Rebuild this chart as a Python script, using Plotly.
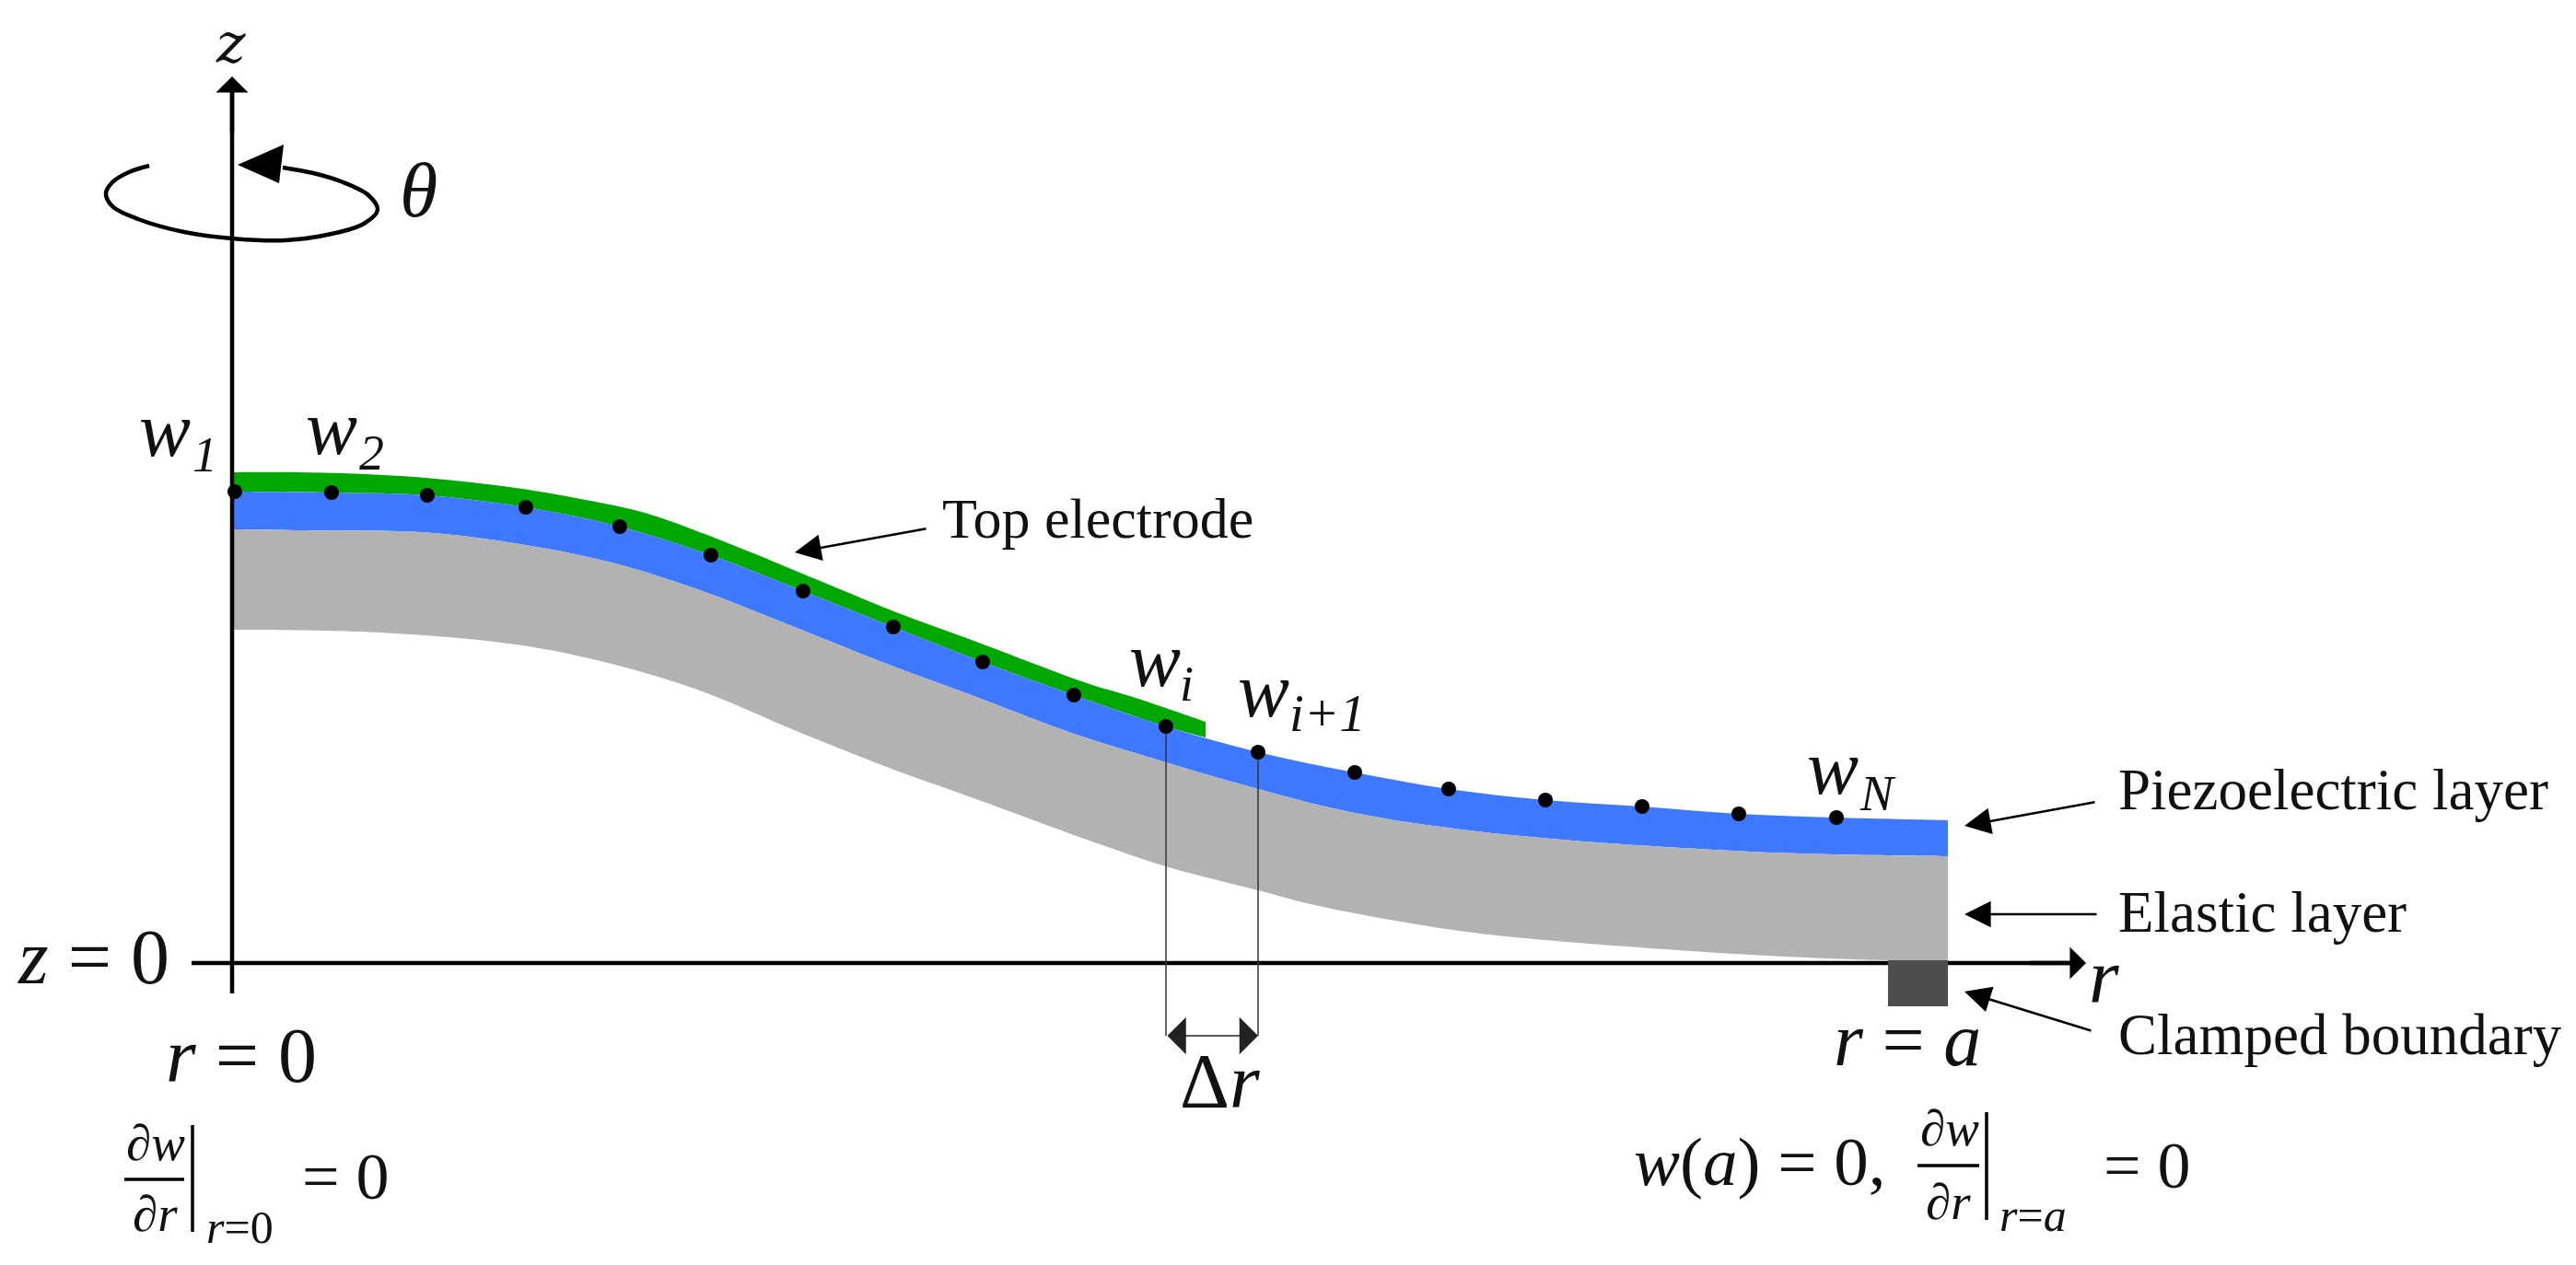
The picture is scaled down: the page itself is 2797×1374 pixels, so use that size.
import plotly.graph_objects as go

# layer outlines (r along the plate, z up from the clamp plane)
node_r = [3, 108, 212, 319, 421, 520, 620, 718, 815, 914, 1014, 1114, 1219, 1321, 1426, 1531, 1636, 1742]
node_z = [512, 511, 508, 495, 474, 443, 404, 365, 327, 291, 257, 229, 207, 189, 177, 170, 162, 158]

piezo_top_r = [0, 108, 212, 319, 421, 520, 620, 718, 815, 914, 1014, 1114, 1219, 1321, 1426, 1531, 1636, 1742, 1863]
piezo_top_z = [512, 511, 508, 495, 474, 443, 404, 365, 327, 291, 257, 229, 207, 189, 177, 170, 162, 158, 155]
piezo_bot_r = [0, 71, 205, 294, 408, 508, 608, 708, 808, 914, 1014, 1114, 1219, 1369, 1648, 1863]
piezo_bot_z = [471, 470, 468, 458, 436, 405, 366, 326, 289, 249, 218, 189, 163, 141, 121, 116]

elastic_bot_r = [0, 160, 308, 408, 508, 608, 708, 808, 928, 1014, 1114, 1171, 1263, 1364, 1648, 1798, 1863]
elastic_bot_z = [362, 359, 346, 326, 296, 254, 214, 178, 134, 105, 79, 64, 46, 31, 9, 3, 3]

electrode_top_r = [0, 71, 183, 294, 384, 448, 531, 641, 721, 808, 928, 981, 1057]
electrode_top_z = [533, 533, 529, 518, 503, 489, 459, 414, 381, 349, 304, 288, 262]
electrode_end_r = 1057
electrode_end_z = 245

clamp_r = [1798, 1863, 1863, 1798, 1798]
clamp_z = [3, 3, -47, -47, 3]

# rotation sense loop around the z axis
loop_r = [-90, -112, -130, -137, -130, -102, -52, 0, 58, 108, 143, 158, 148, 118, 88, 55]
loop_z = [866, 859, 848, 836, 822, 808, 794, 787, 785, 792, 803, 818, 834, 849, 858, 864]
loop_head_r = [6, 56, 51, 6]
loop_head_z = [867, 889, 847, 867]

GREEN = "#00a800"
BLUE = "#3d78ff"
GRAY = "#b2b2b2"
DARK = "#4d4d4d"
SERIF = "Liberation Serif"

fig = go.Figure()


def band(r_up, z_up, r_low, z_low, color):
    # repeated end points keep the corners sharp under the spline
    x = [r_up[0]] + r_up + [r_up[-1]] + [r_low[-1]] + r_low[::-1] + [r_low[0]]
    y = [z_up[0]] + z_up + [z_up[-1]] + [z_low[-1]] + z_low[::-1] + [z_low[0]]
    fig.add_trace(go.Scatter(x=x, y=y, mode="lines", fill="toself", fillcolor=color, hoverinfo="skip",
                             line=dict(width=0, shape="spline", smoothing=1, simplify=False)))


def line(r, z, width, color="black", shape="linear"):
    fig.add_trace(go.Scatter(x=r, y=z, mode="lines", hoverinfo="skip",
                             line=dict(color=color, width=width, shape=shape)))


def label(text, r, base, size, family=SERIF):
    # base is the text baseline, annotations only anchor on the box middle
    fig.add_annotation(x=r, y=base + 0.34 * size, text=text, showarrow=False, xanchor="left",
                       yanchor="middle", font=dict(family=family, size=size, color="#111111"))


def arrow(r0, z0, r1, z1, width=2.6, size=2.2, head=2, side="end", color="black"):
    fig.add_annotation(x=r1, y=z1, ax=r0, ay=z0, xref="x", yref="y", axref="x", ayref="y", text="",
                       showarrow=True, arrowhead=head, startarrowhead=head, arrowside=side,
                       arrowsize=size, startarrowsize=size, arrowwidth=width, arrowcolor=color)


electrode_base_r = [r for r in piezo_top_r if r < electrode_end_r] + [electrode_end_r]
electrode_base_z = [z for r, z in zip(piezo_top_r, piezo_top_z) if r < electrode_end_r] + [electrode_end_z]
band(electrode_top_r, electrode_top_z, electrode_base_r, electrode_base_z, GREEN)
band(piezo_top_r, piezo_top_z, piezo_bot_r, piezo_bot_z, BLUE)
band(piezo_bot_r, piezo_bot_z, elastic_bot_r, elastic_bot_z, GRAY)

# axes
line([0, 0], [-33, 950], 4.5)
line([-44, 2000], [0, 0], 4.5)
arrow(0, 900, 0, 963, width=4.5, size=1.3, head=1)
arrow(1950, 0, 2013, 0, width=4.5, size=1.3, head=1)

fig.add_trace(go.Scatter(x=clamp_r, y=clamp_z, mode="lines", fill="toself", fillcolor=DARK,
                         line=dict(width=0), hoverinfo="skip"))

line(loop_r, loop_z, 4.5, shape="spline")
fig.add_trace(go.Scatter(x=loop_head_r, y=loop_head_z, mode="lines", fill="toself", fillcolor="black",
                         line=dict(width=0), hoverinfo="skip"))

# delta r markers
line([1014, 1014], [257, -79], 1.5, color="#333333")
line([1114, 1114], [229, -79], 1.5, color="#333333")
arrow(1014, -79, 1114, -79, width=1.5, size=4.5, head=1, side="end+start", color="#222222")

fig.add_trace(go.Scatter(x=node_r, y=node_z, mode="markers", hoverinfo="skip",
                         marker=dict(color="black", size=16)))

# callouts
arrow(755, 472, 611, 446)
arrow(2024, 175, 1881, 149)
arrow(2026, 53, 1881, 53)
arrow(2020, -74, 1881, -31)

# DejaVu has a larger x-height, so the z stays clear of the page top at a smaller size
label("<i>z</i>", -20, 979, 60, family="DejaVu Serif")
label("<i>θ</i>", 180, 811, 84)
label("<i>w</i>", -103, 551, 84)
label("<i>1</i>", -45, 534, 54)
label("<i>w</i>", 78, 553, 84)
label("<i>2</i>", 136, 536, 54)
label("<i>w</i>", 972, 301, 84)
label("<i>i</i>", 1027, 285, 54)
label("<i>w</i>", 1090, 268, 84)
label("<i>i+1</i>", 1146, 252, 57)
label("<i>w</i>", 1708, 184, 84)
label("<i>N</i>", 1765, 166, 54)

label("Top electrode", 769, 462, 62)
label("Piezoelectric layer", 2046, 167, 63)
label("Elastic layer", 2046, 34, 63)
label("Clamped boundary", 2046, -99, 63)

label("<i>r</i>", 2014, -43, 84)
label("<i>r</i> = <i>a</i>", 1737, -111, 82)
label("<i>z</i> = 0", -235, -22, 84)
label("<i>r</i> = 0", -74, -129, 84)
label("Δ<i>r</i>", 1027, -157, 84)

# boundary condition at r = 0
label("<i>∂w</i>", -117, -214, 55)
label("<i>∂r</i>", -110, -291, 55)
line([-117, -52], [-235, -235], 3.5)
line([-43, -43], [-176, -292], 3.5)
label("<i>r</i>=0", -30, -304, 50)
label("= 0", 74, -256, 72)

# boundary condition at r = a
label("<i>w</i>(<i>a</i>) = 0,", 1520, -241, 75)
label("<i>∂w</i>", 1831, -198, 55)
label("<i>∂r</i>", 1837, -278, 55)
line([1830, 1897], [-220, -220], 3.5)
line([1905, 1905], [-162, -279], 3.5)
label("<i>r</i>=<i>a</i>", 1917, -291, 50)
label("= 0", 2030, -244, 72)

fig.update_layout(
    width=2781, height=1358, autosize=False,
    margin=dict(l=0, r=0, t=0, b=0), showlegend=False,
    paper_bgcolor="white", plot_bgcolor="white",
    xaxis=dict(range=[-244, 2537], visible=False, fixedrange=True),
    yaxis=dict(range=[-320, 1038], visible=False, fixedrange=True),
)

fig.write_html("out.html", config=dict(displayModeBar=False))
